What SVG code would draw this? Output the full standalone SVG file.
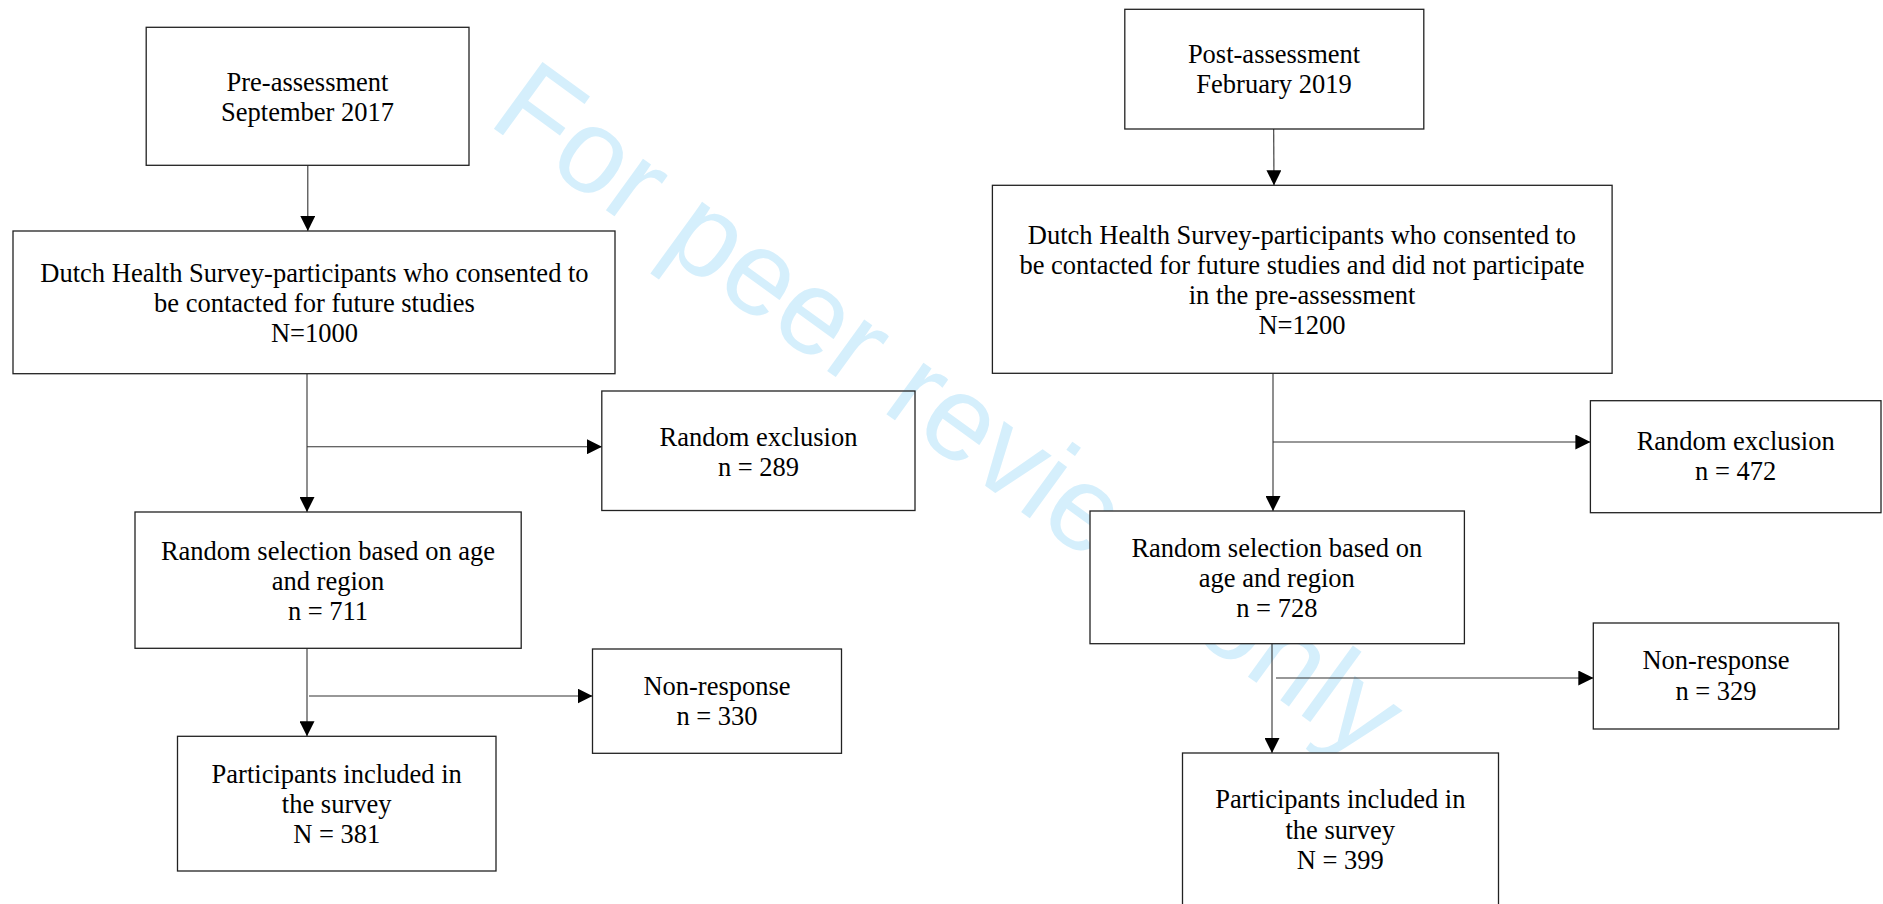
<svg xmlns="http://www.w3.org/2000/svg" width="1883" height="904" viewBox="0 0 1883 904">
<style>
.box{fill:#fff;stroke:#222;stroke-width:1.3}
.open{fill:none;stroke:#222;stroke-width:1.3}
.t{font-family:"Liberation Serif","Times New Roman",serif;font-size:26.5px;fill:#000;text-anchor:middle}
.ln{fill:none;stroke:#333;stroke-width:1.1}
.wm{font-family:"Liberation Sans",Arial,sans-serif;font-size:120px;fill:#d5effc}
</style>
<defs>
<marker id="ah" viewBox="0 0 15 15" refX="15" refY="7.5" markerWidth="15" markerHeight="15" markerUnits="userSpaceOnUse" orient="auto">
<path d="M0,0 L15,7.5 L0,15 Z" fill="#000"/>
</marker>
</defs>
<rect width="1883" height="904" fill="#fff"/>
<text class="wm" x="486" y="123" transform="rotate(36 486 123)">For peer review only</text>

<g id="connectors">
<path class="ln" d="M307.8,165.3 V231" marker-end="url(#ah)"/>
<path class="ln" d="M307,374 V512" marker-end="url(#ah)"/>
<path class="ln" d="M307,446.7 H602" marker-end="url(#ah)"/>
<path class="ln" d="M307,648.3 V736.3" marker-end="url(#ah)"/>
<path class="ln" d="M309,696 H592.5" marker-end="url(#ah)"/>
<path class="ln" d="M1273.7,129 L1274,185.3" marker-end="url(#ah)"/>
<path class="ln" d="M1273,373.3 V511" marker-end="url(#ah)"/>
<path class="ln" d="M1273,442 H1590.4" marker-end="url(#ah)"/>
<path class="ln" d="M1272,643.7 V753" marker-end="url(#ah)"/>
<path class="ln" d="M1276,678 H1593.3" marker-end="url(#ah)"/>
</g>

<g id="pre">
<rect class="box" x="146.2" y="27.3" width="322.8" height="138"/>
<text class="t" x="307.5" y="90.7">Pre-assessment</text>
<text class="t" x="307.5" y="120.5">September 2017</text>
</g>
<g id="dhs1">
<rect class="box" x="13" y="231" width="602" height="142.7"/>
<text class="t" x="314.5" y="281.7">Dutch Health Survey-participants who consented to</text>
<text class="t" x="314.5" y="311.7">be contacted for future studies</text>
<text class="t" x="314.5" y="341.7">N=1000</text>
</g>
<g id="excl1">
<rect class="open" x="601.8" y="391" width="313.2" height="119.5"/>
<text class="t" x="758.5" y="445.5">Random exclusion</text>
<text class="t" x="758.5" y="475.5">n = 289</text>
</g>
<g id="sel1">
<rect class="box" x="135" y="512" width="386.2" height="136.3"/>
<text class="t" x="328" y="560">Random selection based on age</text>
<text class="t" x="328" y="590">and region</text>
<text class="t" x="328" y="620">n = 711</text>
</g>
<g id="nonresp1">
<rect class="box" x="592.5" y="649" width="249" height="104.3"/>
<text class="t" x="717" y="695">Non-response</text>
<text class="t" x="717" y="725">n = 330</text>
</g>
<g id="incl1">
<rect class="box" x="177.5" y="736.3" width="318.5" height="134.7"/>
<text class="t" x="336.7" y="782.5">Participants included in</text>
<text class="t" x="336.7" y="812.8">the survey</text>
<text class="t" x="336.7" y="843">N = 381</text>
</g>

<g id="post">
<rect class="box" x="1124.8" y="9.3" width="299" height="119.7"/>
<text class="t" x="1274" y="63.3">Post-assessment</text>
<text class="t" x="1274" y="93.3">February 2019</text>
</g>
<g id="dhs2">
<rect class="box" x="992.4" y="185.3" width="619.7" height="188"/>
<text class="t" x="1302" y="243.5">Dutch Health Survey-participants who consented to</text>
<text class="t" x="1302" y="273.5">be contacted for future studies and did not participate</text>
<text class="t" x="1302" y="304">in the pre-assessment</text>
<text class="t" x="1302" y="334.2">N=1200</text>
</g>
<g id="excl2">
<rect class="box" x="1590.4" y="400.7" width="290.6" height="112"/>
<text class="t" x="1735.7" y="450">Random exclusion</text>
<text class="t" x="1735.7" y="480">n = 472</text>
</g>
<g id="sel2">
<rect class="box" x="1090" y="511" width="374.4" height="132.7"/>
<text class="t" x="1276.8" y="556.7">Random selection based on</text>
<text class="t" x="1276.8" y="586.7">age and region</text>
<text class="t" x="1276.8" y="616.7">n = 728</text>
</g>
<g id="nonresp2">
<rect class="box" x="1593.3" y="623" width="245.4" height="106"/>
<text class="t" x="1716" y="669.3">Non-response</text>
<text class="t" x="1716" y="700">n = 329</text>
</g>
<g id="incl2">
<rect class="box" x="1182.5" y="753" width="316" height="170"/>
<text class="t" x="1340.3" y="808.3">Participants included in</text>
<text class="t" x="1340.3" y="839.3">the survey</text>
<text class="t" x="1340.3" y="869.3">N = 399</text>
</g>
</svg>
